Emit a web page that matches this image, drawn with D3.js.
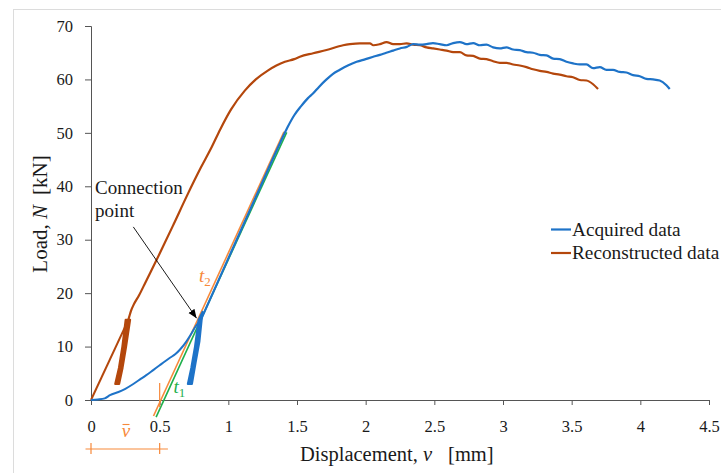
<html>
<head>
<script src="https://d3js.org/d3.v7.min.js"></script>
<style>
body { margin:0; background:#fff; }
svg text { font-family: "Liberation Serif", "Times New Roman", serif; fill:#1a1a1a; }
</style>
</head>
<body>
<div id="chart"></div>
<script>
	// values: [displacement v (mm), load N (kN)]
	var acquired_rise = [[0,0],[0.05,0.1],[0.1,0.3],[0.138,0.9],[0.2,1.5],[0.25,2.1],[0.308,3.0],[0.36,3.9],
		[0.4,4.6],[0.453,5.6],[0.5,6.5],[0.575,7.9],[0.615,8.6],[0.65,9.5],[0.69,10.8],[0.73,12.4],[0.765,13.9],[0.8,15]];
	var acquired_loop = [[0.783,15],[0.757,10],[0.73,6],[0.705,3],[0.735,3],[0.762,7],[0.79,11],[0.812,16.5]];
	var acquired_main = [[0.8,15],[1.0,26.5],[1.2,38],[1.38,48.3],[1.43,51.0],[1.48,53.3],[1.53,55.0],[1.58,56.5],[1.618,57.4],
		[1.66,58.6],[1.715,60.0],[1.76,61.0],[1.812,61.8],[1.87,62.6],[1.934,63.3],[2.0,63.8],[2.05,64.2],
		[2.103,64.6],[2.15,65.0],[2.2,65.4],[2.249,65.8],[2.3,66.1],[2.346,66.6],[2.395,66.5],[2.443,66.6],
		[2.49,66.8],[2.54,66.6],[2.589,66.4],[2.637,66.8],[2.686,67.0],[2.734,66.6],[2.783,66.8],[2.831,66.4],
		[2.88,66.5],[2.928,66.0],[2.977,65.8],[3.025,66.0],[3.074,65.6],[3.122,65.5],[3.171,65.1],[3.219,65.0],
		[3.268,64.6],[3.317,64.5],[3.365,63.9],[3.413,63.8],[3.462,63.3],[3.51,63.0],[3.559,62.8],[3.608,62.8],
		[3.656,62.1],[3.705,62.3],[3.753,61.8],[3.801,61.8],[3.85,61.4],[3.899,61.3],[3.947,60.8],[3.996,60.6],
		[4.044,60.1],[4.092,60.0],[4.141,59.8],[4.19,58.9],[4.214,58.2]];

	var recon_rise = [[0,0],[0.272,15]];
	var recon_loop = [[0.252,15],[0.228,10],[0.203,6],[0.176,3],[0.205,3],[0.23,6],[0.256,10],[0.285,15]];
	var recon_main = [[0.272,15],[0.29,16.6],[0.31,17.8],[0.35,19.6],[0.4,22.2],[0.5,27.4],[0.6,32.8],[0.7,38.3],
		[0.8,43.5],[0.88,47.4],[0.94,50.6],[1.02,54.4],[1.12,57.9],[1.2,60.0],[1.29,61.7],[1.35,62.6],[1.412,63.3],
		[1.48,63.8],[1.521,64.25],[1.618,64.9],[1.715,65.5],[1.836,66.4],
		[1.885,66.6],[1.958,66.76],[2.031,66.76],[2.055,66.4],[2.103,66.6],[2.152,67.0],[2.2,66.6],[2.249,66.6],
		[2.298,66.76],[2.346,66.5],[2.394,66.4],[2.443,66.0],[2.491,65.8],[2.54,65.6],[2.589,65.4],[2.637,65.1],
		[2.686,65.1],[2.734,64.5],[2.783,64.4],[2.831,63.9],[2.88,63.8],[2.928,63.4],[2.977,63.1],[3.025,63.1],
		[3.074,62.8],[3.122,62.6],[3.171,62.3],[3.219,61.9],[3.268,61.6],[3.317,61.4],[3.365,61.1],[3.413,60.9],
		[3.462,60.6],[3.51,60.4],[3.559,59.9],[3.608,59.8],[3.656,59.1],[3.692,58.2]];

	// tangent lines t1 (green) and t2 (orange)
	var tangent_t1 = [[0.474,-3.2],[1.425,50.1]];
	var tangent_t2 = [[0.455,-3.0],[1.405,50.2]];
	var v_bar = 0.5;

	var x_ticks = [0,0.5,1,1.5,2,2.5,3,3.5,4,4.5];
	var y_ticks = [0,10,20,30,40,50,60,70];
	var series_names = ['Acquired data','Reconstructed data'];

	var blue = '#1e73c8', brown = '#b4470c', orange = '#f7893a', green = '#1fb04d';

	var width = 721, height = 473;
	var plot_left = 91, plot_right = 709, plot_top = 26, plot_bottom = 400;

	var svg = d3.select('#chart').append('svg')
		.attr('width', width)
		.attr('height', height);

	// light frame around the figure
	svg.append('rect')
		.attr('x', 13.5).attr('y', 9.5)
		.attr('width', 800).attr('height', 600)
		.attr('fill', 'none').attr('stroke', '#dcdcdc');

	var x = d3.scaleLinear().domain([0,4.5]).range([plot_left, plot_right]);
	var y = d3.scaleLinear().domain([0,70]).range([plot_bottom, plot_top]);

	var xAxis = svg.append('g')
		.attr('transform', 'translate(0,' + plot_bottom + ')')
		.call(d3.axisBottom(x).tickValues(x_ticks).tickFormat(d3.format('~g')).tickSize(5).tickPadding(15));
	var yAxis = svg.append('g')
		.attr('transform', 'translate(' + plot_left + ',0)')
		.call(d3.axisLeft(y).tickValues(y_ticks).tickSize(6).tickPadding(12));

	[xAxis, yAxis].forEach(function(g){
		g.select('.domain').attr('stroke', '#555');
		g.selectAll('.tick line').attr('stroke', '#555');
		g.selectAll('.tick text').style('font-size', '16.5px').attr('fill', '#1a1a1a')
			.style('font-family', '"Liberation Serif", serif');
	});

	var line = d3.line()
		.x(function(d){ return x(d[0]); })
		.y(function(d){ return y(d[1]); });
	var smooth = d3.line()
		.curve(d3.curveMonotoneX)
		.x(function(d){ return x(d[0]); })
		.y(function(d){ return y(d[1]); });

	// tangents under the data
	svg.append('path').attr('d', line(tangent_t1)).attr('stroke', green).attr('stroke-width', 1.6).attr('fill','none');
	svg.append('path').attr('d', line(tangent_t2)).attr('stroke', orange).attr('stroke-width', 1.6).attr('fill','none');

	function draw_series(rise, loop, main, color){
		svg.append('path').attr('d', smooth(rise)).attr('stroke', color).attr('stroke-width', 2).attr('fill','none');
		svg.append('path').attr('d', line(loop) + 'Z').attr('stroke', color).attr('stroke-width', 2)
			.attr('fill', color).attr('stroke-linejoin','round');
		svg.append('path').attr('d', smooth(main)).attr('stroke', color).attr('stroke-width', 2.2)
			.attr('fill','none').attr('stroke-linejoin','round');
	}
	draw_series(recon_rise, recon_loop, recon_main, brown);
	draw_series(acquired_rise, acquired_loop, acquired_main, blue);

	// v-bar marks
	svg.append('line').attr('x1', x(v_bar)).attr('x2', x(v_bar)).attr('y1', y(3.2)).attr('y2', y(-1.3))
		.attr('stroke', orange).attr('stroke-width', 1.2);
	var dimY = 449;
	svg.append('line').attr('x1', x(-0.04)).attr('x2', x(v_bar + 0.06)).attr('y1', dimY).attr('y2', dimY)
		.attr('stroke', orange).attr('stroke-width', 1.2);
	[0, v_bar].forEach(function(v){
		svg.append('line').attr('x1', x(v)).attr('x2', x(v)).attr('y1', dimY - 6).attr('y2', dimY + 5)
			.attr('stroke', orange).attr('stroke-width', 1.2);
	});
	svg.append('text').attr('x', 126).attr('y', 437).attr('text-anchor','middle')
		.style('font-size','19px').style('font-style','italic').style('fill', orange).text('v');
	svg.append('line').attr('x1', 122.5).attr('x2', 129.5).attr('y1', 424.5).attr('y2', 424.5)
		.attr('stroke', orange).attr('stroke-width', 1.1);

	// tangent labels
	function tlabel(xp, yp, sub, color){
		var t = svg.append('text').attr('x', xp).attr('y', yp).style('font-size','19px').style('fill', color);
		t.append('tspan').style('font-style','italic').text('t');
		t.append('tspan').attr('dy', 4).style('font-size','13px').text(sub);
	}
	tlabel(199, 281.5, '2', orange);
	tlabel(173.5, 392.5, '1', green);

	// connection point annotation
	svg.append('text').attr('x', x(0.03)).attr('y', y(38.5)).style('font-size','19px').text('Connection');
	svg.append('text').attr('x', x(0.03)).attr('y', y(34.2)).style('font-size','19px').text('point');

	svg.append('defs').append('marker')
		.attr('id','arrow').attr('viewBox','0 0 10 10').attr('refX',10).attr('refY',5)
		.attr('markerWidth',9).attr('markerHeight',9).attr('markerUnits','userSpaceOnUse').attr('orient','auto')
		.append('path').attr('d','M0,1 L10,5 L0,9 Z').attr('fill','#000');
	svg.append('line')
		.attr('x1', x(0.308)).attr('y1', y(32.4))
		.attr('x2', x(0.769)).attr('y2', y(15.3))
		.attr('stroke', '#000').attr('stroke-width', 0.9)
		.attr('marker-end', 'url(#arrow)');

	// legend
	var legend = svg.append('g');
	series_names.forEach(function(name, i){
		var ly = 229.5 + i * 23.5;
		legend.append('line').attr('x1', 551).attr('x2', 571).attr('y1', ly).attr('y2', ly)
			.attr('stroke', i == 0 ? blue : brown).attr('stroke-width', 2.2);
		legend.append('text').attr('x', 572).attr('y', ly + 6).style('font-size','19.3px').text(name);
	});

	// axis titles
	var xt = svg.append('text').attr('x', 300).attr('y', 461).style('font-size','20.5px');
	xt.append('tspan').text('Displacement, ');
	xt.append('tspan').style('font-style','italic').text('v');
	xt.append('tspan').attr('dx', 16).text('[mm]');

	var yt = svg.append('text').attr('transform','translate(47,214) rotate(-90)')
		.attr('text-anchor','middle').style('font-size','21px');
	yt.append('tspan').text('Load, ');
	yt.append('tspan').style('font-style','italic').text('N');
	yt.append('tspan').attr('dx', 10).text('[kN]');
</script>
</body>
</html>
